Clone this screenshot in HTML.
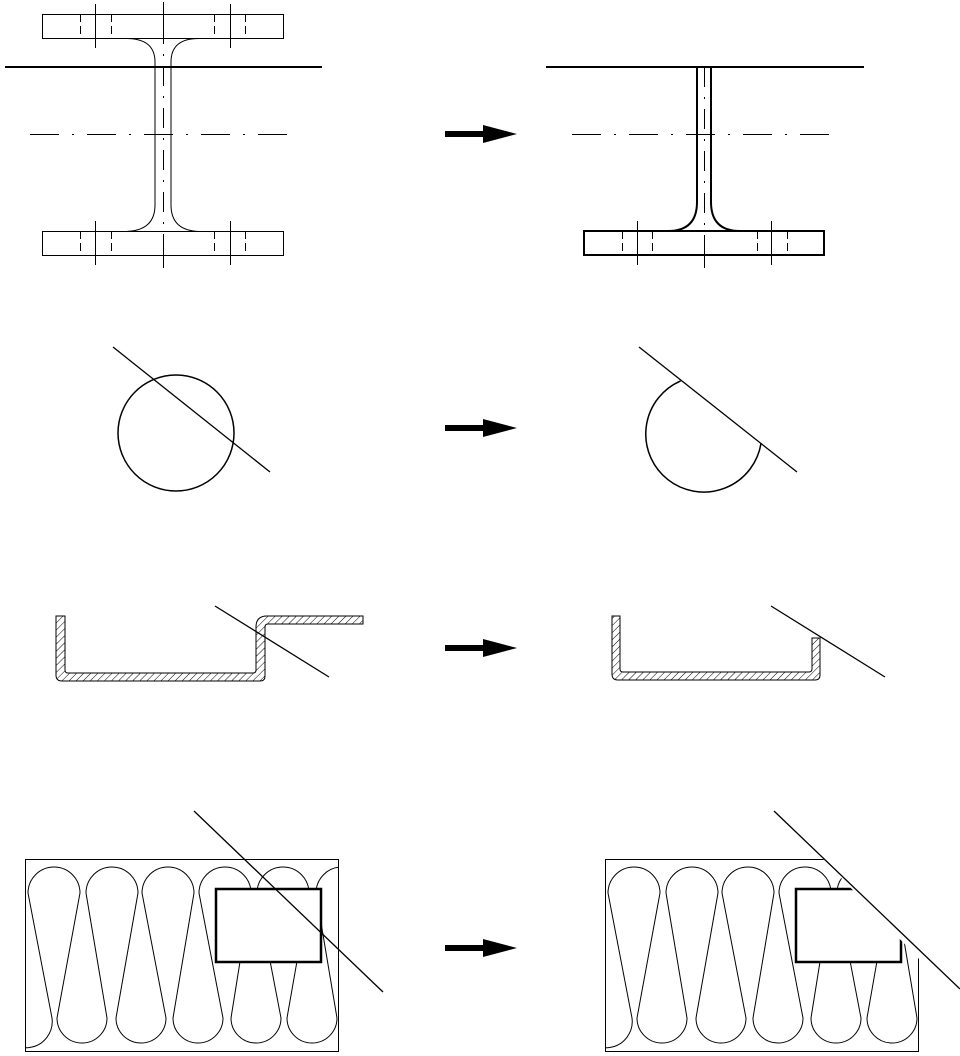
<!DOCTYPE html>
<html><head><meta charset="utf-8"><style>html,body{margin:0;padding:0;background:#fff}svg{display:block}</style></head>
<body>
<svg width="960" height="1056" viewBox="0 0 960 1056" xmlns="http://www.w3.org/2000/svg" fill="none" stroke="#000">
<defs>
<pattern id="h" width="5" height="5" patternUnits="userSpaceOnUse" patternTransform="rotate(45)">
<line x1="0" y1="0" x2="0" y2="5" stroke="#000" stroke-width="1"/>
</pattern>
<clipPath id="c1"><rect x="25" y="859" width="314" height="193"/></clipPath>
<clipPath id="c2"><polygon points="605,859 823,859 919,959 919,1052 605,1052"/></clipPath>
<path id="drops" stroke-width="1" d="M0,1025 A25,25 0 0 0 52,1018 L28,893 A26,26 0 1 1 80,893 L57,1018 A25,25 0 1 0 107,1018 L86,893 A26,26 0 1 1 138,893 L116,1018 A25,25 0 1 0 166,1018 L142,893 A26,26 0 1 1 194,893 L173,1018 A25,25 0 1 0 223,1018 L199,893 A26,26 0 1 1 251,893 L231,1018 A25,25 0 1 0 281,1018 L257,893 A26,26 0 1 1 309,893 L287,1018 A25,25 0 1 0 337,1018 L316,893 A26,26 0 1 1 368,893"/>
<g id="arrow"><rect x="445" y="-3" width="40" height="6" fill="#000" stroke="none"/><polygon points="483,-9 517,0 483,9" fill="#000" stroke="none"/></g>
</defs>

<!-- Row 1 left I-beam -->
<g stroke-width="1">
<rect x="42.5" y="14.5" width="241" height="24"/>
<rect x="42.5" y="231.5" width="241" height="24"/>
<path d="M125,38.5 Q155,38 155,62 L155,205 Q155,231 125,231.5"/>
<path d="M200,38.5 Q171,38 171,62 L171,205 Q171,231 200,231.5"/>
<line x1="95.5" y1="4" x2="95.5" y2="48"/><line x1="230.5" y1="4" x2="230.5" y2="48"/>
<line x1="95.5" y1="221" x2="95.5" y2="265"/><line x1="230.5" y1="221" x2="230.5" y2="265"/>
<g stroke-dasharray="8 4"><line x1="80.5" y1="14" x2="80.5" y2="38"/><line x1="111.5" y1="14" x2="111.5" y2="38"/><line x1="214.5" y1="14" x2="214.5" y2="38"/><line x1="245.5" y1="14" x2="245.5" y2="38"/>
<line x1="80.5" y1="231" x2="80.5" y2="255"/><line x1="111.5" y1="231" x2="111.5" y2="255"/><line x1="214.5" y1="231" x2="214.5" y2="255"/><line x1="245.5" y1="231" x2="245.5" y2="255"/></g>
<line x1="30" y1="134.5" x2="296" y2="134.5" stroke-dasharray="29 13 2 13"/>
<line x1="163.5" y1="2" x2="163.5" y2="24"/>
<line x1="163.5" y1="24" x2="163.5" y2="250" stroke-dasharray="20 10 2 10"/>
<line x1="163.5" y1="250" x2="163.5" y2="268"/>
</g>
<line x1="5" y1="67" x2="322" y2="67" stroke-width="2"/>

<!-- Row 1 right -->
<g stroke-width="2">
<rect x="584" y="231" width="240" height="24"/>
<path d="M668,231 Q697,231 697,202 L697,67"/>
<path d="M740,231 Q711,231 711,202 L711,67"/>
<line x1="546" y1="67" x2="864" y2="67"/>
</g>
<g stroke-width="1">
<line x1="637.5" y1="221" x2="637.5" y2="265"/><line x1="771.5" y1="221" x2="771.5" y2="265"/>
<g stroke-dasharray="8 4"><line x1="622.5" y1="231" x2="622.5" y2="255"/><line x1="652.5" y1="231" x2="652.5" y2="255"/><line x1="757.5" y1="231" x2="757.5" y2="255"/><line x1="787.5" y1="231" x2="787.5" y2="255"/></g>
<line x1="572" y1="134.5" x2="837" y2="134.5" stroke-dasharray="29 13 2 13"/>
<line x1="704.5" y1="67" x2="704.5" y2="250" stroke-dasharray="20 10 2 10"/>
<line x1="704.5" y1="250" x2="704.5" y2="268"/>
</g>
<use href="#arrow" transform="translate(0,134)"/>

<!-- Row 2 -->
<circle cx="176" cy="433" r="58" stroke-width="1.5"/>
<line x1="113" y1="347" x2="270" y2="472" stroke-width="1.3"/>
<path d="M680.6,380.9 A58,58 0 1 0 761,443.5" stroke-width="1.5"/>
<line x1="639" y1="347" x2="797" y2="472" stroke-width="1.3"/>
<use href="#arrow" transform="translate(0,428)"/>

<!-- Row 3 -->
<path d="M56,616 L65,616 L65,670 Q65,673 68,673 L253,673 Q256,673 256,670 L256,627 Q256,616 267,616 L363,616 L363,624 L268,624 Q265,624 265,627 L265,676 Q265,681 260,681 L62,681 Q56,681 56,675 Z" fill="url(#h)" stroke-width="1"/>
<line x1="215" y1="606" x2="329" y2="677" stroke-width="1.3"/>
<path d="M612,616 L620,616 L620,669 Q620,672 623,672 L809,672 Q812,672 812,669 L812,638 L820,638 L820,675 Q820,680 815,680 L618,680 Q612,680 612,674 Z" fill="url(#h)" stroke-width="1"/>
<line x1="771" y1="606" x2="885" y2="677" stroke-width="1.3"/>
<use href="#arrow" transform="translate(0,648)"/>

<!-- Row 4 left -->
<g clip-path="url(#c1)"><use href="#drops"/></g>
<rect x="25.5" y="859.5" width="313" height="192" stroke-width="1"/>
<rect x="216" y="889" width="105" height="73" fill="#fff" stroke-width="2.5"/>
<line x1="194" y1="811" x2="383" y2="992" stroke-width="1.3"/>

<!-- Row 4 right -->
<g clip-path="url(#c2)">
<use href="#drops" transform="translate(580,0)"/>
<rect x="605.5" y="859.5" width="313" height="192" stroke-width="1"/>
<rect x="796" y="889" width="105" height="73" fill="#fff" stroke-width="2.5"/>
</g>
<line x1="774" y1="811" x2="960" y2="989" stroke-width="1.3"/>
<use href="#arrow" transform="translate(0,948)"/>
</svg>
</body></html>
